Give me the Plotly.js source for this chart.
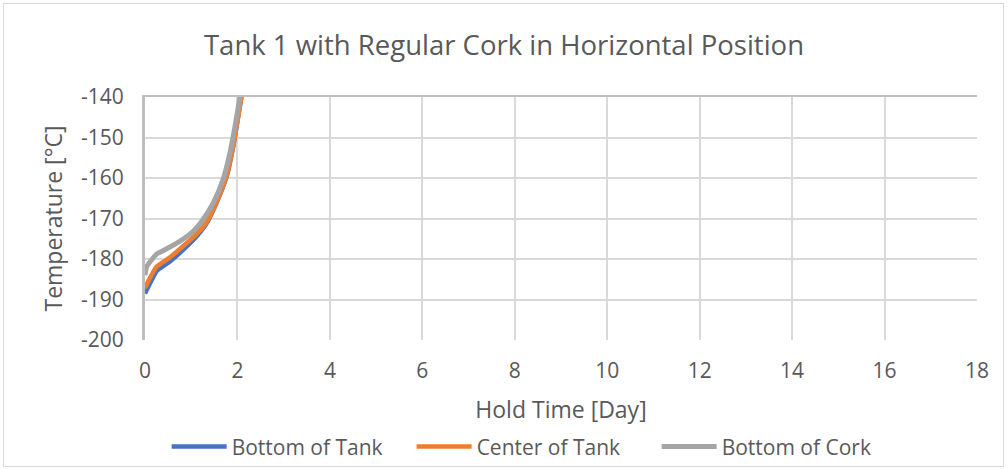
<!DOCTYPE html>
<html>
<head>
<meta charset="utf-8">
<script src="https://cdn.plot.ly/plotly-3.0.1.min.js"></script>
<style>
  html, body { margin: 0; padding: 0; background: #ffffff; }
  #frame { position: absolute; left: 3px; top: 3px; width: 1001px; height: 464px; border: 1px solid #d9d9d9; box-sizing: border-box; }
  #chart { position: absolute; left: 0; top: 0; width: 1008px; height: 470px; }
</style>
</head>
<body>
<div id="frame"></div>
<div id="chart"></div>
<script>
// Hold time [day]
const timeBottomTank = [0, 0.11, 0.25, 0.54, 0.83, 1.12, 1.34, 1.55, 1.77, 1.91, 2.09];
const tempBottomTank = [-188.5, -186.0, -183.0, -180.6, -177.7, -174.4, -171.1, -166.1, -159.5, -152.1, -139.7];

const timeCenterTank = [0, 0.11, 0.25, 0.54, 0.83, 1.12, 1.34, 1.55, 1.77, 1.91, 2.09];
const tempCenterTank = [-187.2, -184.6, -181.9, -179.6, -176.8, -173.8, -170.8, -165.9, -159.3, -152.0, -139.7];

const timeBottomCork = [0, 0.04, 0.25, 0.4, 0.76, 1.05, 1.26, 1.48, 1.69, 1.84, 1.95, 2.06];
const tempBottomCork = [-184.0, -181.8, -178.8, -177.9, -175.6, -173.1, -170.2, -166.1, -160.3, -153.7, -147.1, -139.7];

const seriesNames = ["Bottom of Tank", "Center of Tank", "Bottom of Cork"];
const seriesColors = ["#4472C4", "#ED7D31", "#A5A5A5"];

const xTicks = [0, 2, 4, 6, 8, 10, 12, 14, 16, 18];
const yTicks = [-200, -190, -180, -170, -160, -150, -140];

const font = "Open Sans, Noto Sans, sans-serif";
const txt = "#595959";

const traces = [
  {x: timeBottomTank, y: tempBottomTank, name: seriesNames[0], mode: "lines",
   line: {color: seriesColors[0], width: 4.5, shape: "spline", smoothing: 0.5}},
  {x: timeCenterTank, y: tempCenterTank, name: seriesNames[1], mode: "lines",
   line: {color: seriesColors[1], width: 4.5, shape: "spline", smoothing: 0.5}},
  {x: timeBottomCork, y: tempBottomCork, name: seriesNames[2], mode: "lines",
   line: {color: seriesColors[2], width: 5, shape: "spline", smoothing: 0.5}}
];

const layout = {
  width: 1008, height: 470,
  paper_bgcolor: "rgba(0,0,0,0)", plot_bgcolor: "#ffffff",
  margin: {l: 145, r: 31, t: 97, b: 130, autoexpand: false},
  font: {family: font, color: txt},
  title: {text: "Tank 1 with Regular Cork in Horizontal Position",
          font: {family: font, size: 27.5, color: txt},
          x: 0.5, xanchor: "center", y: 0.904, yanchor: "middle", yref: "container",
          automargin: false},
  xaxis: {range: [0, 18], tickvals: xTicks, ticktext: xTicks.map(String),
          showgrid: true, gridcolor: "#d9d9d9", gridwidth: 2, automargin: false,
          showline: false, zeroline: false, ticks: "",
          tickfont: {size: 21, color: txt}, ticklabelstandoff: 16,
          title: {text: "Hold Time [Day]", font: {size: 23, color: txt}, standoff: 18}},
  xaxis2: {range: [0, 18], overlaying: "x", side: "top", showgrid: false, automargin: false,
           showticklabels: false, ticks: "", showline: true,
           linecolor: "#bfbfbf", linewidth: 2, zeroline: false},
  yaxis: {range: [-200, -140], tickvals: yTicks, ticktext: yTicks.map(String),
          showgrid: true, gridcolor: "#d9d9d9", gridwidth: 2, automargin: false,
          showline: true, linecolor: "#bfbfbf", linewidth: 3, zeroline: false, ticks: "",
          tickfont: {size: 21, color: txt}, ticklabelstandoff: 14,
          title: {text: "Temperature [°C]", font: {size: 23, color: txt}, standoff: 12}},
  showlegend: true,
  legend: {orientation: "h", x: 0.026, xanchor: "left", y: -0.44, yanchor: "middle",
           font: {size: 21, color: txt}, itemwidth: 55, entrywidth: 175, entrywidthmode: "pixels",
           tracegroupgap: 0, bgcolor: "rgba(0,0,0,0)"}
};

// invisible helper trace so the top axis line (plot border) is drawn
traces.push({x: [0], y: [-200], xaxis: "x2", mode: "markers", marker: {opacity: 0},
             showlegend: false, hoverinfo: "skip"});

Plotly.newPlot("chart", traces, layout, {displayModeBar: false, staticPlot: true});
</script>
</body>
</html>
